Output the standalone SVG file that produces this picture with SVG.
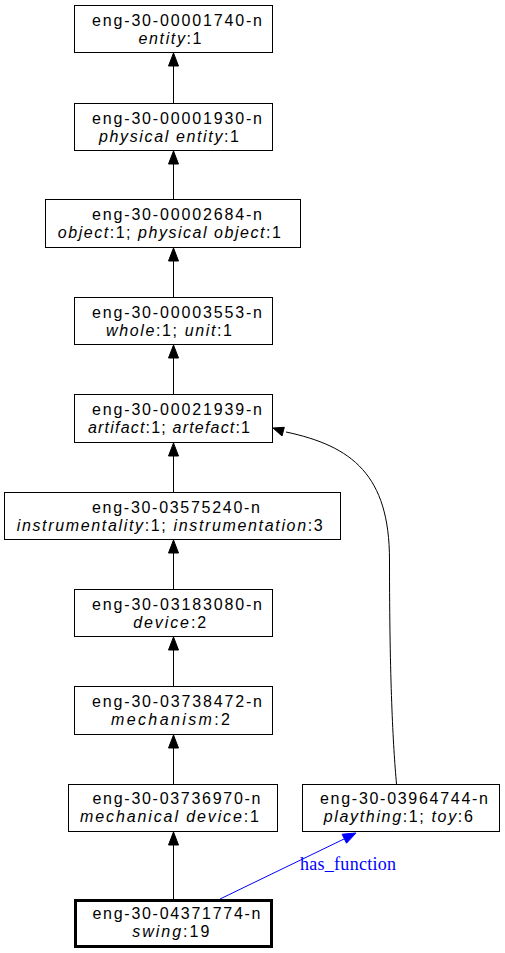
<svg xmlns="http://www.w3.org/2000/svg" width="505" height="953" viewBox="0 0 505 953">
<style>
.box{fill:#fff;stroke:#000;stroke-width:1}
.bold{fill:#fff;stroke:#000;stroke-width:3}
.t{font-family:"Liberation Sans",Arial,sans-serif;font-size:16px;fill:#000;text-anchor:middle}
.i{font-style:italic}
.e{fill:none;stroke:#000;stroke-width:1}
.ah{fill:#000;stroke:#000;stroke-width:1}
.be{fill:none;stroke:#00f;stroke-width:1}
.bah{fill:#00f;stroke:#00f;stroke-width:1}
.lbl{font-family:"Liberation Serif","Times New Roman",serif;font-size:18px;fill:#00f}
</style>
<rect width="505" height="953" fill="#fff"/>
<g id="edges">
<path class="e" d="M173.5,103.5 L173.5,66"/><polygon class="ah" points="173.5,53 168.5,66 178.5,66"/>
<path class="e" d="M173.5,199.5 L173.5,164"/><polygon class="ah" points="173.5,151 168.5,164 178.5,164"/>
<path class="e" d="M173.5,297.5 L173.5,261"/><polygon class="ah" points="173.5,248 168.5,261 178.5,261"/>
<path class="e" d="M173.5,394.5 L173.5,358"/><polygon class="ah" points="173.5,345 168.5,358 178.5,358"/>
<path class="e" d="M173.5,492.5 L173.5,456"/><polygon class="ah" points="173.5,443 168.5,456 178.5,456"/>
<path class="e" d="M173.5,589.5 L173.5,553"/><polygon class="ah" points="173.5,540 168.5,553 178.5,553"/>
<path class="e" d="M173.5,686.5 L173.5,650"/><polygon class="ah" points="173.5,637 168.5,650 178.5,650"/>
<path class="e" d="M173.5,784.5 L173.5,748"/><polygon class="ah" points="173.5,735 168.5,748 178.5,748"/>
<path class="e" d="M173.5,899 L173.5,845"/><polygon class="ah" points="173.5,832 168.5,845 178.5,845"/>
<path class="e" d="M396.5,784 C393,745 389.5,680 389.5,560 C389.5,475 352,446 286,432"/>
<polygon class="ah" points="273,428 284.3,427.3 282,436"/>
<path class="be" d="M220,899 L344,839"/>
<polygon class="bah" points="356,833 346.5,843.2 342.1,834.2"/>
<text class="lbl" x="300" y="870" textLength="96" lengthAdjust="spacing">has_function</text>
</g>
<g id="n1"><rect class="box" x="74.5" y="5.5" width="198" height="47"/>
<text class="t" x="177" y="26" textLength="170" lengthAdjust="spacing">eng-30-00001740-n</text>
<text class="t" x="170" y="43.5" textLength="63" lengthAdjust="spacing"><tspan class="i">entity</tspan>:1</text></g>
<g id="n2"><rect class="box" x="74.5" y="103.5" width="198" height="47"/>
<text class="t" x="177" y="124" textLength="170" lengthAdjust="spacing">eng-30-00001930-n</text>
<text class="t" x="169" y="141.5" textLength="140" lengthAdjust="spacing"><tspan class="i">physical entity</tspan>:1</text></g>
<g id="n3"><rect class="box" x="45.5" y="199.5" width="255" height="48"/>
<text class="t" x="177" y="220" textLength="170" lengthAdjust="spacing">eng-30-00002684-n</text>
<text class="t" x="169.3" y="238" textLength="223" lengthAdjust="spacing"><tspan class="i">object</tspan>:1; <tspan class="i">physical object</tspan>:1</text></g>
<g id="n4"><rect class="box" x="74.5" y="297.5" width="198" height="47"/>
<text class="t" x="177" y="318" textLength="170" lengthAdjust="spacing">eng-30-00003553-n</text>
<text class="t" x="169" y="335.5" textLength="126" lengthAdjust="spacing"><tspan class="i">whole</tspan>:1; <tspan class="i">unit</tspan>:1</text></g>
<g id="n5"><rect class="box" x="74.5" y="394.5" width="198" height="48"/>
<text class="t" x="177" y="415" textLength="170" lengthAdjust="spacing">eng-30-00021939-n</text>
<text class="t" x="169" y="433" textLength="162" lengthAdjust="spacing"><tspan class="i">artifact</tspan>:1; <tspan class="i">artefact</tspan>:1</text></g>
<g id="n6"><rect class="box" x="4.5" y="492.5" width="336" height="47"/>
<text class="t" x="176" y="513" textLength="168" lengthAdjust="spacing">eng-30-03575240-n</text>
<text class="t" x="169.7" y="530.5" textLength="306" lengthAdjust="spacing"><tspan class="i">instrumentality</tspan>:1; <tspan class="i">instrumentation</tspan>:3</text></g>
<g id="n7"><rect class="box" x="74.5" y="589.5" width="198" height="47"/>
<text class="t" x="177" y="610" textLength="170" lengthAdjust="spacing">eng-30-03183080-n</text>
<text class="t" x="169.7" y="627.5" textLength="73" lengthAdjust="spacing"><tspan class="i">device</tspan>:2</text></g>
<g id="n8"><rect class="box" x="74.5" y="686.5" width="198" height="48"/>
<text class="t" x="177" y="707" textLength="170" lengthAdjust="spacing">eng-30-03738472-n</text>
<text class="t" x="170.5" y="725" textLength="119" lengthAdjust="spacing"><tspan class="i">mechanism</tspan>:2</text></g>
<g id="n9"><rect class="box" x="68.5" y="784.5" width="209" height="47"/>
<text class="t" x="176.5" y="804" textLength="168" lengthAdjust="spacing">eng-30-03736970-n</text>
<text class="t" x="169.5" y="822" textLength="179" lengthAdjust="spacing"><tspan class="i">mechanical device</tspan>:1</text></g>
<g id="n10"><rect class="box" x="302.5" y="784.5" width="197" height="47"/>
<text class="t" x="404" y="804" textLength="168" lengthAdjust="spacing">eng-30-03964744-n</text>
<text class="t" x="398.3" y="822" textLength="149" lengthAdjust="spacing"><tspan class="i">plaything</tspan>:1; <tspan class="i">toy</tspan>:6</text></g>
<g id="n11"><rect class="bold" x="75.5" y="900.5" width="196" height="46"/>
<text class="t" x="176.5" y="919" textLength="168" lengthAdjust="spacing">eng-30-04371774-n</text>
<text class="t" x="170.8" y="937" textLength="77" lengthAdjust="spacing"><tspan class="i">swing</tspan>:19</text></g>
</svg>
